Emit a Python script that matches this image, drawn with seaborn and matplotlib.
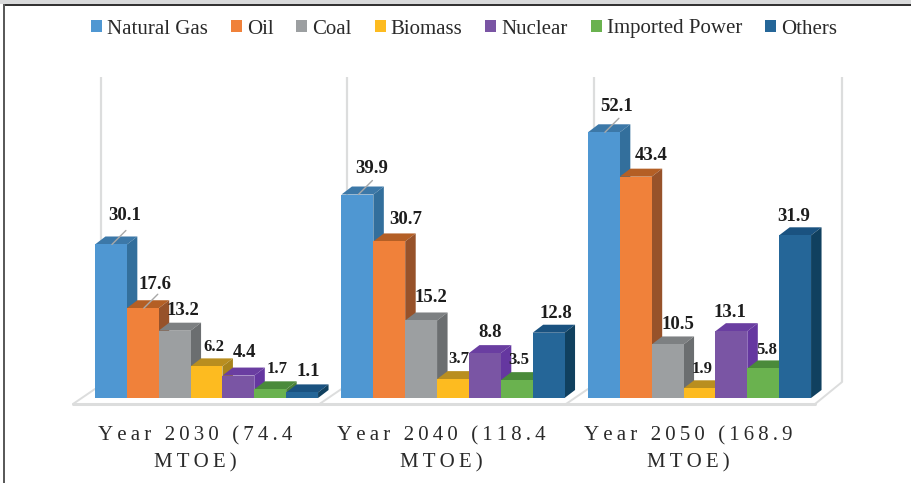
import matplotlib
matplotlib.use("Agg")
import matplotlib.pyplot as plt
from matplotlib.patches import Polygon, Rectangle
from matplotlib.transforms import ScaledTranslation
import pandas as pd
import seaborn as sns

# Energy mix by source, MTOE
sources = ["Natural Gas", "Oil", "Coal", "Biomass", "Nuclear", "Imported Power", "Others"]
year_labels = ["Year 2030 (74.4\nMTOE)", "Year 2040 (118.4\nMTOE)", "Year 2050 (168.9\nMTOE)"]
values_2030 = [30.1, 17.6, 13.2, 6.2, 4.4, 1.7, 1.1]
values_2040 = [39.9, 30.7, 15.2, 3.7, 8.8, 3.5, 12.8]
values_2050 = [52.1, 43.4, 10.5, 1.9, 13.1, 5.8, 31.9]

# Front, top and side shades of each series
front_colors = ["#4F97D2", "#F0813A", "#9C9FA1", "#FDBB20", "#7A55A4", "#6AB24F", "#256698"]
top_colors = ["#3C78A8", "#B45F25", "#7D8082", "#B98E1F", "#6A3EA1", "#4A8A3A", "#1A5280"]
side_colors = ["#336F9C", "#97522A", "#6B6E70", "#A8841C", "#6537A0", "#4A8038", "#10405F"]

# Value label placement in pixels relative to the bar's top centre: (dx, dy)
label_offsets = [
    [(14, 28.5), (12, 24), (8, 19.7), (7, 18.9), (6, 22.6), (7, 20.8), (6, 20.4)],
    [(14, 26.5), (16, 22.4), (9.5, 22.5), (6, 20.5), (5, 21), (2, 20.5), (7, 19.7)],
    [(13, 25.3), (15.5, 20.7), (10, 19.5), (3, 19.8), (-1, 19), (3.5, 18.9), (-1, 19.3)],
]
small_labels = {(0, 3), (0, 5), (1, 3), (1, 5), (2, 3), (2, 5)}
leader_series = {(0, 0), (0, 1), (1, 0), (2, 0)}
category_shift_px = [-11, -11.5, -11.5]

FIG_W, FIG_H, DPI = 912, 483, 100
BASE_PX = 398        # baseline row
PX_PER_UNIT = 5.1    # vertical scale
GROUP_PX = 246.5     # distance between category centres
FIRST_PX = 206.5     # centre of the first category
DEPTH_X, DEPTH_Y = 10.5, 8
PT = 72 / DPI

sns.set_style("white")
plt.rcParams["font.family"] = ["Liberation Serif", "DejaVu Serif"]

frame = pd.DataFrame({
    "Year": [lab for lab in year_labels for _ in sources],
    "Source": sources * 3,
    "MTOE": values_2030 + values_2040 + values_2050,
})

fig = plt.figure(figsize=(FIG_W / DPI, FIG_H / DPI), dpi=DPI, facecolor="white")
ax = fig.add_axes([0, (FIG_H - BASE_PX) / FIG_H, 1, BASE_PX / FIG_H])
ax.patch.set_alpha(0)

sns.barplot(data=frame, x="Year", y="MTOE", hue="Source", hue_order=sources,
            order=year_labels, palette=front_colors, saturation=1,
            width=0.905, gap=0, linewidth=0, ax=ax, errorbar=None)

ax.set_xlim(-FIRST_PX / GROUP_PX, (FIG_W - FIRST_PX) / GROUP_PX)
ax.set_ylim(0, BASE_PX / PX_PER_UNIT)
sns.despine(ax=ax, left=True, bottom=True)
ax.set_xlabel("")
ax.set_ylabel("")
ax.set_yticks([])

# Data-space sizes of one pixel
px_x = 1 / GROUP_PX
px_y = 1 / PX_PER_UNIT
dx, dy = DEPTH_X * px_x, DEPTH_Y * px_y

# Extruded faces, painted left to right so nearer-right bars cover their neighbours
for s_idx, container in enumerate(ax.containers):
    for g_idx, bar in enumerate(container):
        x0, w, h = bar.get_x(), bar.get_width(), bar.get_height()
        z = 10 + s_idx
        bar.set_zorder(z + 0.5)
        ax.add_patch(Polygon([(x0, h), (x0 + dx, h + dy), (x0 + w + dx, h + dy), (x0 + w, h)],
                             closed=True, fc=top_colors[s_idx], ec="none", zorder=z))
        ax.add_patch(Polygon([(x0 + w, 0), (x0 + w + dx, dy), (x0 + w + dx, h + dy), (x0 + w, h)],
                             closed=True, fc=side_colors[s_idx], ec="none", zorder=z + 0.2))
        off_x, off_y = label_offsets[g_idx][s_idx]
        size = 12 if (g_idx, s_idx) in small_labels else 13.5
        ax.annotate(f"{h:.1f}", (x0 + w / 2, h), xytext=(off_x * PT, off_y * PT),
                    textcoords="offset points", ha="center", va="center",
                    fontsize=size, fontweight="bold", color="#1d1d1d", zorder=40)
        if (g_idx, s_idx) in leader_series:
            ax.annotate("", (x0 + w / 2 + 1 * px_x, h), xytext=(14 * PT, 14 * PT),
                        textcoords="offset points", zorder=41,
                        arrowprops=dict(arrowstyle="-", color="#a8a8a8", lw=1,
                                        shrinkA=0, shrinkB=0))

# Floor and back walls of each panel
wall_color = "#DCDDDD"
wall_top = 63
group_lefts = [ax.containers[0][g].get_x() for g in range(3)]
last = ax.containers[-1][2]
last_right = last.get_x() + last.get_width()
for left in group_lefts:
    ax.plot([left + 6 * px_x] * 2, [9 * px_y, wall_top], color=wall_color, lw=1.6,
            zorder=1, clip_on=False, solid_capstyle="butt")
    ax.plot([left - 22 * px_x, left], [-6 * px_y, 9 * px_y], color=wall_color, lw=1.4,
            zorder=1, clip_on=False)
ax.plot([last_right + 31 * px_x] * 2, [16 * px_y, wall_top], color=wall_color, lw=1.6,
        zorder=1, clip_on=False, solid_capstyle="butt")
ax.plot([last_right + 4 * px_x, last_right + 31 * px_x], [-6 * px_y, 16 * px_y],
        color=wall_color, lw=1.4, zorder=1, clip_on=False)
ax.plot([group_lefts[0] - 22 * px_x, last_right + 4 * px_x], [-5.5 * px_y] * 2,
        color=wall_color, lw=2.2, zorder=1, clip_on=False)

# Category labels with open letter spacing
ax.tick_params(axis="x", length=0, pad=28 * PT)
ax.set_xticks(range(3))
spaced = ["\n".join("\u2009".join(part) for part in lab.split("\n")) for lab in year_labels]
ax.set_xticklabels(spaced, fontsize=15, color="#2a2a2a", linespacing=1.54)
for lbl, shift in zip(ax.get_xticklabels(), category_shift_px):
    lbl.set_transform(lbl.get_transform() + ScaledTranslation(shift / DPI, 0, fig.dpi_scale_trans))

# Legend across the top
handles, names = ax.get_legend_handles_labels()
ax.legend(handles, names, ncol=7, loc="center", bbox_to_anchor=(464 / FIG_W, 1 - 29 / BASE_PX),
          frameon=False, fontsize=15, handlelength=0.52, handleheight=0.52,
          handletextpad=0.24, columnspacing=1.11, borderpad=0, labelcolor="#2a2a2a")

# Page furniture: grey band, top rule and left rule
fig.patches.append(Rectangle((0, 1 - 4 / FIG_H), 1, 4 / FIG_H, transform=fig.transFigure,
                             fc="#D9DADB", ec="none"))
fig.patches.append(Rectangle((0.0035, 1 - 5.5 / FIG_H), 1, 1.5 / FIG_H, transform=fig.transFigure,
                             fc="#333333", ec="none"))
fig.patches.append(Rectangle((3 / FIG_W, 0), 1.6 / FIG_W, 1 - 4 / FIG_H, transform=fig.transFigure,
                             fc="#5a5a5a", ec="none"))

fig.savefig("out.png", dpi=DPI)
